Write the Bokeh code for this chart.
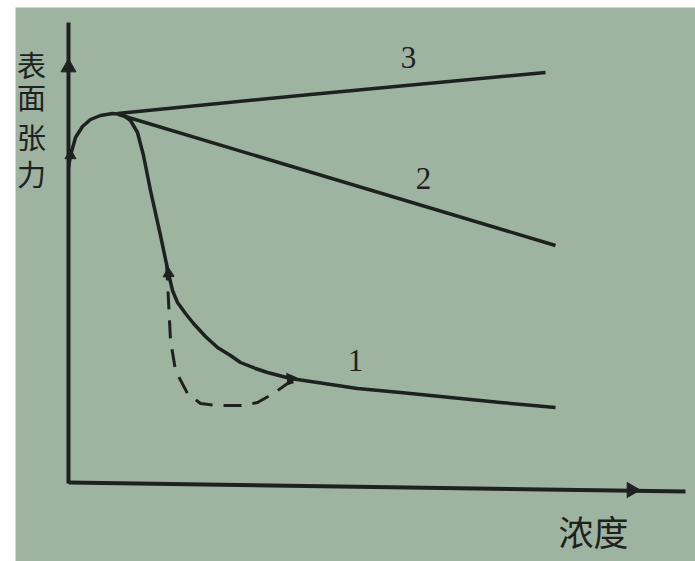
from bokeh.plotting import figure
from bokeh.models import Range1d, ColumnDataSource
from bokeh.core.properties import value
from bokeh.embed import file_html
from bokeh.resources import INLINE

# Surface tension vs. concentration (qualitative curves), arbitrary units
# Curve 1: surfactant solution (rise near zero, sharp drop, then slow decline)
c1_x = [0.00, 0.02, 0.07, 0.14, 0.22, 0.32, 0.44, 0.54, 0.62, 0.69, 0.75, 0.82,
        0.92, 1.00, 1.04, 1.09, 1.17, 1.25, 1.37, 1.49, 1.62, 1.72, 1.87, 1.99,
        2.22, 2.49, 2.89, 3.32, 3.82, 4.32, 4.87]
c1_y = [3.16, 3.28, 3.46, 3.57, 3.64, 3.68, 3.70, 3.69, 3.63, 3.51, 3.28, 2.93,
        2.48, 2.10, 1.93, 1.81, 1.70, 1.60, 1.47, 1.36, 1.28, 1.21, 1.15, 1.11,
        1.05, 1.01, 0.95, 0.91, 0.86, 0.81, 0.76]
# Curve 1 with impurities: minimum below the plateau (dashed)
c1d_x = [0.98, 1.00, 1.02, 1.07, 1.19, 1.32, 1.49, 1.75, 1.89, 2.05, 2.19, 2.32]
c1d_y = [2.21, 1.83, 1.43, 1.13, 0.90, 0.80, 0.78, 0.78, 0.81, 0.90, 1.00, 1.04]
# Curve 2: gradual linear decrease
c2_x = [0.50, 4.87]
c2_y = [3.69, 2.38]
# Curve 3: gradual increase
c3_x = [0.49, 2.42, 4.77]
c3_y = [3.70, 3.89, 4.11]

curve_labels = ["3", "2", "1"]
label_x = [3.40, 3.55, 2.87]
label_y = [4.26, 3.05, 1.23]

y_title = ["表", "面", "张", "力"]
x_title = "浓度"

ink = "#1d221e"
paper = "#9fb3a1"

p = figure(width=695, height=561, output_backend="svg", toolbar_location=None,
           x_range=Range1d(-0.53, 6.27), y_range=Range1d(-0.78, 4.76),
           min_border_left=15, min_border_top=7, min_border_right=0,
           min_border_bottom=0)
p.axis.visible = False
p.grid.visible = False
p.outline_line_color = None
p.background_fill_color = paper
p.border_fill_color = "white"

# hand-drawn axes with arrowheads
p.line([0.0, 0.0], [0.0, 4.61], line_color=ink, line_width=4)
p.line([0.0, 6.17], [0.01, -0.08], line_color=ink, line_width=4)
p.scatter([0.0], [4.16], marker="triangle", size=15, angle=0.0,
          fill_color=ink, line_color=ink)
p.scatter([5.63], [-0.065], marker="triangle", size=15, angle=-1.5708,
          fill_color=ink, line_color=ink)

# curves
p.line(c3_x, c3_y, line_color=ink, line_width=3.5)
p.line(c2_x, c2_y, line_color=ink, line_width=3.5)
p.line(c1_x, c1_y, line_color=ink, line_width=3.5, line_join="round")
p.line(c1d_x, c1d_y, line_color=ink, line_width=3, line_dash="18 11")

# direction marks along curve 1
p.scatter([c1_x[1], c1_x[13], c1_x[24]], [c1_y[1], c1_y[13], c1_y[24]],
          marker="triangle", size=11, angle=[0.0, 0.05, -1.45],
          fill_color=ink, line_color=ink)

src = ColumnDataSource(dict(x=label_x, y=label_y, t=curve_labels))
p.text("x", "y", text="t", source=src, text_font=value("Liberation Serif"),
       text_font_size="31px", text_color=ink, text_align="center",
       text_baseline="middle")

p.text([-0.37] * 4, [4.20, 3.88, 3.48, 3.11], text=y_title,
       text_font=value("Noto Sans CJK SC"), text_font_size="29px",
       text_color=ink, text_align="center", text_baseline="middle")
p.text([5.25], [-0.47], text=[x_title], text_font=value("Noto Sans CJK SC"),
       text_font_size="35px", text_color=ink, text_align="center",
       text_baseline="middle")

open("out.html", "w").write(file_html(p, INLINE))
